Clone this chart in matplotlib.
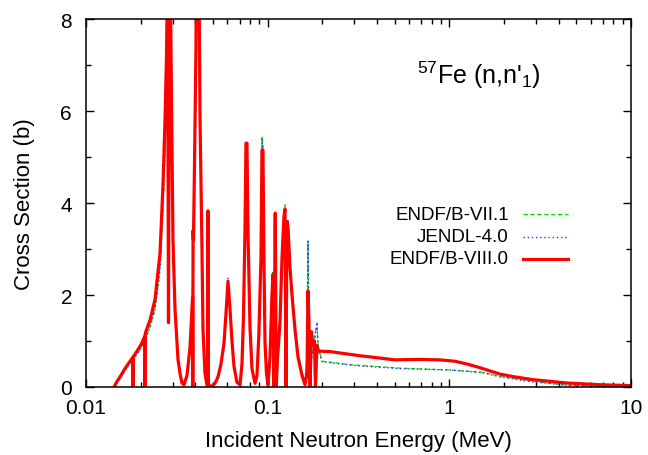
import matplotlib
matplotlib.use('Agg')
from matplotlib import pyplot as plt
from matplotlib.ticker import LogLocator, MultipleLocator, NullFormatter

plt.rcParams['font.family'] = ['Liberation Sans', 'DejaVu Sans']
plt.rcParams['mathtext.fontset'] = 'custom'
plt.rcParams['mathtext.rm'] = 'Liberation Sans'
plt.rcParams['mathtext.it'] = 'Liberation Sans:italic'

# ENDF/B-VIII.0 inelastic (n,n'1) cross section: energy (MeV), cross section (b)
energy_viii = [
    0.01426, 0.01481, 0.01539, 0.01639, 0.01747, 0.01807, 0.01814, 0.01821,
    0.01909, 0.02008, 0.02104, 0.02112, 0.0212, 0.0225, 0.02397, 0.0249,
    0.02555, 0.02654, 0.02722, 0.02774, 0.0281, 0.02845, 0.02881, 0.02917,
    0.02974, 0.03012, 0.03089, 0.03209, 0.03291, 0.03376, 0.03461, 0.03596,
    0.03736, 0.03831, 0.03861, 0.03871, 0.03885, 0.03905, 0.03955, 0.04031,
    0.04082, 0.04134, 0.04187, 0.04241, 0.04349, 0.04405, 0.04517, 0.04634,
    0.04675, 0.04693, 0.04711, 0.04937, 0.05129, 0.05328, 0.05534, 0.05748,
    0.05896, 0.06047, 0.06202, 0.06361, 0.06524, 0.06776, 0.07039, 0.07221,
    0.07357, 0.07501, 0.07597, 0.07693, 0.07792, 0.07992, 0.08197, 0.08514,
    0.08733, 0.08956, 0.09186, 0.09303, 0.09421, 0.09541, 0.09663, 0.09849,
    0.1004, 0.1030, 0.1056, 0.1070, 0.1083, 0.1101, 0.1115, 0.1132,
    0.1169, 0.1199, 0.1229, 0.1245, 0.1261, 0.1277, 0.1293, 0.1327,
    0.1361, 0.1414, 0.1469, 0.1545, 0.1605, 0.1646, 0.1667, 0.1688,
    0.1709, 0.1742, 0.1776, 0.1809, 0.1833, 0.1868, 0.1892,
    0.2202, 0.322, 0.502, 0.689, 0.888, 1.074, 1.25, 1.474,
    1.90, 2.296, 2.88, 4.44, 6.74, 10.0,
]
xs_viii = [
    0.0, 0.12, 0.22, 0.4, 0.56, 0.64, 0.0, 0.66,
    0.78, 0.92, 1.1, 0.0, 1.17, 1.45, 1.9, 2.5,
    2.9, 4.4, 5.8, 7.2, 9.0, 1.4, 9.5, 8.5,
    5.2, 3.2, 1.7, 0.6, 0.3, 0.08, 0.05, 0.25,
    0.85, 1.7, 1.95, 0.0, 3.4, 3.2, 4.8, 7.4,
    11.0, 12.0, 9.0, 5.9, 3.0, 1.25, 0.3, 0.04,
    0.02, 3.83, 0.02, 0.02, 0.08, 0.22, 0.5, 0.95,
    1.6, 2.3, 1.7, 1.0, 0.45, 0.1, 0.05, 0.5,
    1.5, 3.4, 5.3, 5.3, 3.4, 1.3, 0.4, 0.08,
    0.25, 1.2, 2.8, 5.15, 5.15, 2.8, 1.0, 0.3,
    0.05, 0.65, 2.0, 2.45, 0.0, 3.78, 0.0, 0.6,
    1.4, 2.8, 3.7, 3.87, 0.0, 3.6, 3.5, 2.6,
    2.0, 1.25, 0.65, 0.25, 0.05, 0.3, 2.09, 1.4,
    0.0, 1.2, 0.9, 1.0, 0.0, 0.9, 0.78,
    0.77, 0.68, 0.59, 0.60, 0.59, 0.56, 0.5, 0.42,
    0.28, 0.22, 0.16, 0.087, 0.05, 0.03,
]

# ENDF/B-VII.1 evaluation (JENDL-4.0 is given on the same energy grid)
energy_vii = [
    0.01426, 0.01481, 0.01539, 0.01639, 0.01747, 0.01909, 0.02008, 0.0212,
    0.0225, 0.02397, 0.0249, 0.02555, 0.02654, 0.02722, 0.02774, 0.0281,
    0.02845, 0.02881, 0.02917, 0.02974, 0.03012, 0.03089, 0.03209, 0.03291,
    0.03376, 0.03461, 0.03596, 0.03736, 0.03831, 0.03905, 0.03955, 0.04031,
    0.04082, 0.04134, 0.04187, 0.04241, 0.04349, 0.04405, 0.04517, 0.04634,
    0.04937, 0.05129, 0.05328, 0.05534, 0.05748, 0.05896, 0.06047, 0.06202,
    0.06361, 0.06524, 0.06776, 0.07039, 0.07221, 0.07357, 0.07501, 0.07597,
    0.07693, 0.07792, 0.07992, 0.08197, 0.08514, 0.08733, 0.08956, 0.09186,
    0.09303, 0.09421, 0.09541, 0.09663, 0.09849, 0.1004, 0.1030, 0.1056,
    0.1070, 0.1083, 0.1101, 0.1115, 0.1132, 0.1169, 0.1199, 0.1229,
    0.1245, 0.1261, 0.1277, 0.1293, 0.1327, 0.1361, 0.1414, 0.1469,
    0.1545, 0.1605, 0.1646, 0.1667, 0.1688, 0.1709, 0.1742, 0.1776,
    0.1809, 0.1833, 0.1868, 0.1892, 0.199, 0.295, 0.535, 1.007,
    1.53, 1.90, 2.88, 4.44, 6.74, 10.0,
]
xs_vii = [
    0.0, 0.09, 0.18, 0.36, 0.52, 0.72, 0.85, 1.05,
    1.3, 1.7, 2.2, 2.6, 3.9, 5.2, 6.5, 8.2,
    10.0, 9.5, 8.3, 5.2, 3.2, 1.7, 0.6, 0.3,
    0.08, 0.05, 0.25, 0.85, 1.7, 3.0, 4.8, 7.4,
    11.0, 12.0, 9.0, 5.9, 3.0, 1.25, 0.3, 0.06,
    0.03, 0.08, 0.22, 0.5, 0.95, 1.6, 2.35, 1.7,
    1.0, 0.45, 0.1, 0.05, 0.5, 1.5, 3.4, 5.3,
    5.3, 3.4, 1.3, 0.4, 0.08, 0.25, 1.2, 2.8,
    5.45, 5.2, 2.8, 1.0, 0.3, 0.05, 0.65, 2.0,
    2.5, 1.6, 1.2, 1.0, 1.1, 1.5, 2.8, 3.7,
    3.96, 3.3, 3.5, 3.55, 2.7, 2.1, 1.35, 0.75,
    0.3, 0.15, 0.6, 3.17, 1.2, 0.5, 0.6, 0.8,
    1.0, 1.2, 1.39, 0.9, 0.56, 0.48, 0.41, 0.37,
    0.32, 0.23, 0.12, 0.04, 0.02, 0.007,
]
xs_jendl = [
    0.0, 0.09, 0.18, 0.36, 0.52, 0.71, 0.84, 1.04,
    1.29, 1.68, 2.15, 2.55, 3.85, 5.1, 6.4, 8.1,
    10.0, 9.5, 8.3, 5.2, 3.2, 1.7, 0.6, 0.3,
    0.08, 0.05, 0.25, 0.85, 1.7, 3.0, 4.8, 7.4,
    11.0, 12.0, 9.0, 5.9, 3.0, 1.25, 0.3, 0.06,
    0.03, 0.08, 0.22, 0.5, 0.95, 1.6, 2.38, 1.7,
    1.0, 0.45, 0.1, 0.05, 0.5, 1.5, 3.4, 5.3,
    5.3, 3.4, 1.3, 0.4, 0.08, 0.25, 1.2, 2.8,
    5.4, 5.2, 2.8, 1.0, 0.3, 0.05, 0.65, 2.0,
    2.5, 1.6, 1.2, 1.0, 1.1, 1.5, 2.8, 3.7,
    3.85, 3.3, 3.55, 3.65, 2.75, 2.1, 1.35, 0.75,
    0.3, 0.15, 0.6, 3.17, 1.2, 0.5, 0.6, 0.8,
    1.0, 1.2, 1.36, 0.9, 0.55, 0.47, 0.40, 0.37,
    0.31, 0.22, 0.11, 0.04, 0.02, 0.007,
]

series_labels = ['ENDF/B-VII.1', 'JENDL-4.0', 'ENDF/B-VIII.0']
x_ticks = [0.01, 0.1, 1, 10]
x_tick_labels = ['0.01', '0.1', '1', '10']

# line styles: green dashed, blue dotted, thick red solid
styles = [
    dict(color='#00dd00', lw=0.9, dashes=(3.5, 2)),
    dict(color='#3030ff', lw=1.0, dashes=(1, 2)),
    dict(color='#ff0000', lw=2.3),
]


# Legend row: right-aligned label followed by a short line sample
def key_row(ax, y, label, style):
    ax.text(0.776, y, label, transform=ax.transAxes, ha='right', va='center',
            fontsize=13.5)
    ax.plot([0.802, 0.884], [y, y], transform=ax.transAxes, clip_on=False,
            **style)


fig = plt.figure(figsize=(6.48, 4.56), dpi=100)
ax = fig.add_axes([86 / 648, 68 / 456, 545 / 648, 368 / 456])

ax.plot(energy_vii, xs_vii, **styles[0])
ax.plot(energy_vii, xs_jendl, **styles[1])
ax.plot(energy_viii, xs_viii, **styles[2])

ax.set_xscale('log')
ax.set_xlim(0.01, 10)
ax.set_ylim(0, 8)

ax.set_xticks(x_ticks, labels=x_tick_labels)
ax.xaxis.set_minor_locator(LogLocator(base=10, subs=range(2, 10)))
ax.xaxis.set_minor_formatter(NullFormatter())
ax.yaxis.set_major_locator(MultipleLocator(2))
ax.yaxis.set_minor_locator(MultipleLocator(1))

ax.tick_params(which='both', direction='in', top=True, right=True,
               width=1.0, labelsize=15)
ax.tick_params(which='major', length=6, pad=8)
ax.tick_params(which='minor', length=3.5)
ax.tick_params(axis='y', which='major', pad=10)
for s in ax.spines.values():
    s.set_linewidth(1.1)

ax.set_xlabel('Incident Neutron Energy (MeV)', fontsize=16, labelpad=9)
ax.set_ylabel('Cross Section (b)', fontsize=16, labelpad=18)

ax.text(0.72, 0.85, r"$^{57}$Fe (n,n$'_{1}$)", transform=ax.transAxes,
        ha='center', va='center', fontsize=18)

for row, label, style in zip([0.47, 0.408, 0.348], series_labels, styles):
    key_row(ax, row, label, style)

fig.savefig('out.png', dpi=100)
